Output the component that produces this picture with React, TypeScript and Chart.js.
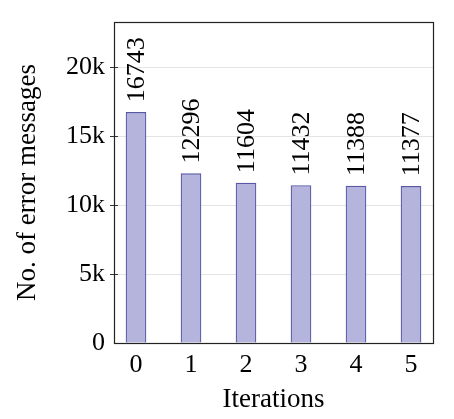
import React, { useEffect, useRef } from "react";
import { Chart, registerables } from "chart.js";

Chart.register(...registerables);

const iterations = [0, 1, 2, 3, 4, 5];
const errorCounts = [16743, 12296, 11604, 11432, 11388, 11377];
const yTickValues = [0, 5000, 10000, 15000, 20000];
const yTickLabels = ["0", "5k", "10k", "15k", "20k"];

const FONT = "'Liberation Serif', 'Times New Roman', serif";

const framePlugin = {
  id: "frameAndLabels",
  afterDatasetsDraw(chart: any) {
    const { ctx, chartArea } = chart;
    const { left, right, top, bottom } = chartArea;
    ctx.save();
    const yScale = chart.scales.y;
    ctx.strokeStyle = "#333";
    ctx.lineWidth = 1;
    yTickValues.forEach((v) => {
      if (v === 0) return;
      const py = Math.round(yScale.getPixelForValue(v)) + 0.5;
      ctx.beginPath();
      ctx.moveTo(left - 4, py);
      ctx.lineTo(left + 4, py);
      ctx.stroke();
    });
    ctx.strokeStyle = "#222";
    ctx.lineWidth = 1.2;
    ctx.strokeRect(Math.round(left) + 0.5, Math.round(top) + 0.5, Math.round(right - left), Math.round(bottom - top));
    const meta = chart.getDatasetMeta(0);
    ctx.fillStyle = "#000";
    ctx.font = `26px ${FONT}`;
    ctx.textAlign = "left";
    ctx.textBaseline = "middle";
    meta.data.forEach((bar: any, i: number) => {
      ctx.save();
      ctx.translate(bar.x + 1, bar.y - 10);
      ctx.rotate(-Math.PI / 2);
      ctx.fillText(String(errorCounts[i]), 0, 0);
      ctx.restore();
    });
    ctx.restore();
  },
};

export default function App() {
  const canvasRef = useRef<HTMLCanvasElement | null>(null);

  useEffect(() => {
    const canvas = canvasRef.current;
    if (!canvas) return;
    const chart = new Chart(canvas, {
      type: "bar",
      data: {
        datasets: [
          {
            data: iterations.map((x, i) => ({ x, y: errorCounts[i] })),
            backgroundColor: "rgb(180,180,221)",
            borderColor: "rgb(88,88,168)",
            borderWidth: 1.2,
            barThickness: 20,
          },
        ],
      },
      options: {
        responsive: false,
        animation: false,
        devicePixelRatio: 1,
        layout: { padding: { top: 22, right: 21, left: 0, bottom: 0 } },
        plugins: {
          legend: { display: false },
          tooltip: { enabled: false },
        },
        scales: {
          x: {
            type: "linear",
            offset: false,
            min: -0.4,
            max: 5.4,
            afterFit: (s: any) => {
              s.height = 76;
              s.paddingLeft = 0;
              s.paddingRight = 0;
            },
            afterBuildTicks: (s: any) => {
              s.ticks = iterations.map((v) => ({ value: v }));
            },
            ticks: {
              padding: 7,
              color: "#000",
              font: { family: FONT, size: 26 },
              callback: (v: any) => String(v),
              maxRotation: 0,
            },
            grid: { display: false, drawTicks: false, offset: false },
            border: { display: false },
            title: {
              display: true,
              text: "Iterations",
              color: "#000",
              font: { family: FONT, size: 27 },
              padding: { top: 0, bottom: 3 },
            },
          },
          y: {
            min: 0,
            max: 23300,
            afterFit: (s: any) => {
              s.width = 114;
              s.paddingTop = 0;
              s.paddingBottom = 0;
            },
            afterBuildTicks: (s: any) => {
              s.ticks = yTickValues.map((v) => ({ value: v }));
            },
            ticks: {
              padding: 9,
              color: "#000",
              font: { family: FONT, size: 26 },
              callback: (v: any) => yTickLabels[yTickValues.indexOf(Number(v))],
            },
            grid: {
              color: (c: any) => (c.tick && c.tick.value === 0 ? "rgba(0,0,0,0)" : "#e4e4e4"),
              drawTicks: false,
              lineWidth: 1,
            },
            border: { display: false },
            title: {
              display: true,
              text: "No. of error messages",
              color: "#000",
              font: { family: FONT, size: 27 },
              padding: { top: 12, bottom: 0 },
            },
          },
        },
      },
      plugins: [framePlugin],
    });
    return () => chart.destroy();
  }, []);

  return (
    <div style={{ position: "fixed", left: 0, top: 0, width: 454, height: 419, background: "#fff" }}>
      <canvas ref={canvasRef} width={454} height={419} style={{ display: "block" }} />
    </div>
  );
}
